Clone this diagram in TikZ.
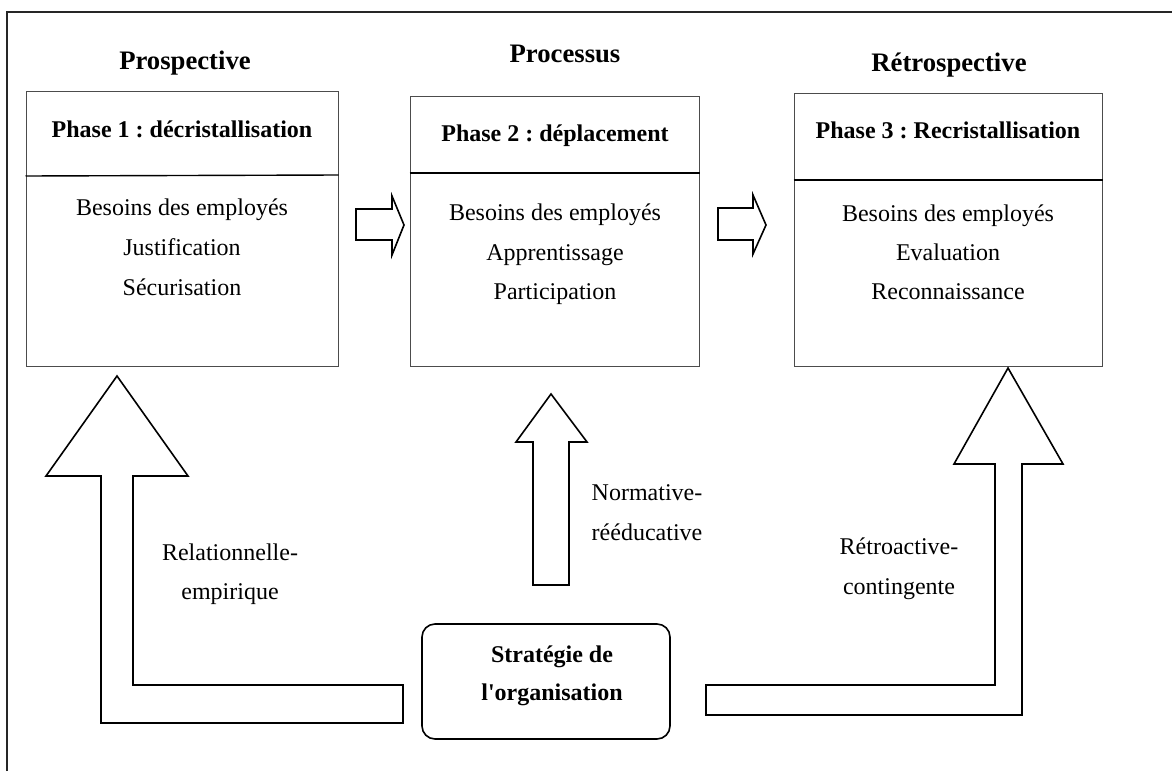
\documentclass[tikz,border=0pt]{standalone}
\usepackage{fontspec}
\setmainfont{Liberation Serif}
\frenchspacing
\newcommand{\straightq}{{\addfontfeatures{Ligatures=TeXOff}'}}
\begin{document}
\begin{tikzpicture}[x=1pt,y=-1pt,
  phasebox/.style={draw=black!70,line width=1pt,inner sep=0pt},
  divider/.style={draw=black,line width=1.4pt},
  blockarrow/.style={draw=black,line width=1.6pt,fill=white,line join=miter},
  txt/.style={inner sep=0pt,anchor=base,font=\fontsize{24}{28}\selectfont},
  btxt/.style={inner sep=0pt,anchor=base,font=\fontsize{24}{28}\selectfont\bfseries},
  ttl/.style={inner sep=0pt,anchor=base,font=\fontsize{26.7}{30}\selectfont\bfseries},
  stratbox/.style={draw=black,line width=1.6pt,rounded corners=13pt,inner sep=0pt}]
\useasboundingbox (0,0) rectangle (1172,771);
% frame (only top and left edges visible)
\coordinate (ftl) at (7,12);
\coordinate (ftr) at (1172,12);
\coordinate (fbl) at (7,771);
\draw[line width=2pt,black!85] (fbl) -- (ftl) -- (ftr);

% phase boxes
\node[phasebox,minimum width=312pt,minimum height=275pt] (b1) at (182,228.5) {};
\node[phasebox,minimum width=289pt,minimum height=270pt] (b2) at (554.5,231) {};
\node[phasebox,minimum width=308pt,minimum height=273pt] (b3) at (948,229.5) {};
\draw[divider] (b1.west |- 0,176) -- (b1.east |- 0,175);
\draw[divider] (b2.west |- 0,173) -- (b2.east |- 0,173);
\draw[divider] (b3.west |- 0,180) -- (b3.east |- 0,180);

% titles
\node[ttl] (t1) at (185,69) {Prospective};
\node[ttl] (t2) at (565,62) {Processus};
\node[ttl] (t3) at (949,71) {Rétrospective};

% phase headings
\node[btxt] (h1) at (182,137) {Phase 1 : décristallisation};
\node[btxt] (h2) at (555,141) {Phase 2 : déplacement};
\node[btxt] (h3) at (948,138) {Phase 3 : Recristallisation};

% box contents
\node[txt] (c11) at (182,215) {Besoins des employés};
\node[txt] (c12) at (182,255) {Justification};
\node[txt] (c13) at (182,295) {Sécurisation};
\node[txt] (c21) at (555,220) {Besoins des employés};
\node[txt] (c22) at (555,260) {Apprentissage};
\node[txt] (c23) at (555,299) {Participation};
\node[txt] (c31) at (948,221) {Besoins des employés};
\node[txt] (c32) at (948,260) {Evaluation};
\node[txt] (c33) at (948,299) {Reconnaissance};

% horizontal block arrows between boxes
\draw[blockarrow] (356,209) -- (392,209) -- (392,196) -- (404,225) -- (392,255) -- (392,240) -- (356,240) -- cycle;
\draw[blockarrow] (718,208) -- (753,208) -- (753,195) -- (766,225) -- (753,254) -- (753,240) -- (718,240) -- cycle;

% strategy box
\node[stratbox,minimum width=248pt,minimum height=115pt] (strat) at (546,681.5) {};
\node[btxt] (s1) at (552,662) {Stratégie de};
\node[btxt] (s2) at (552,700) {l\straightq organisation};

% bent block arrows
\draw[blockarrow] (403,723) -- (101,723) -- (101,476) -- (46,476) -- (117,376) -- (188,476) -- (133,476) -- (133,685) -- (403,685) -- cycle;
\draw[blockarrow] (706,715) -- (1022,715) -- (1022,464) -- (1063,464) -- (1008,368) -- (954,464) -- (995,464) -- (995,685) -- (706,685) -- cycle;
% middle block arrow
\draw[blockarrow] (533,585) -- (533,442) -- (516,442) -- (551,394) -- (587,442) -- (569,442) -- (569,585) -- cycle;

% strategy labels
\node[txt] (l1a) at (230,560) {Relationnelle-};
\node[txt] (l1b) at (230,599) {empirique};
\node[txt] (l2a) at (647,500) {Normative-};
\node[txt] (l2b) at (647,540) {rééducative};
\node[txt] (l3a) at (899,554) {Rétroactive-};
\node[txt] (l3b) at (899,594) {contingente};
\end{tikzpicture}
\end{document}
